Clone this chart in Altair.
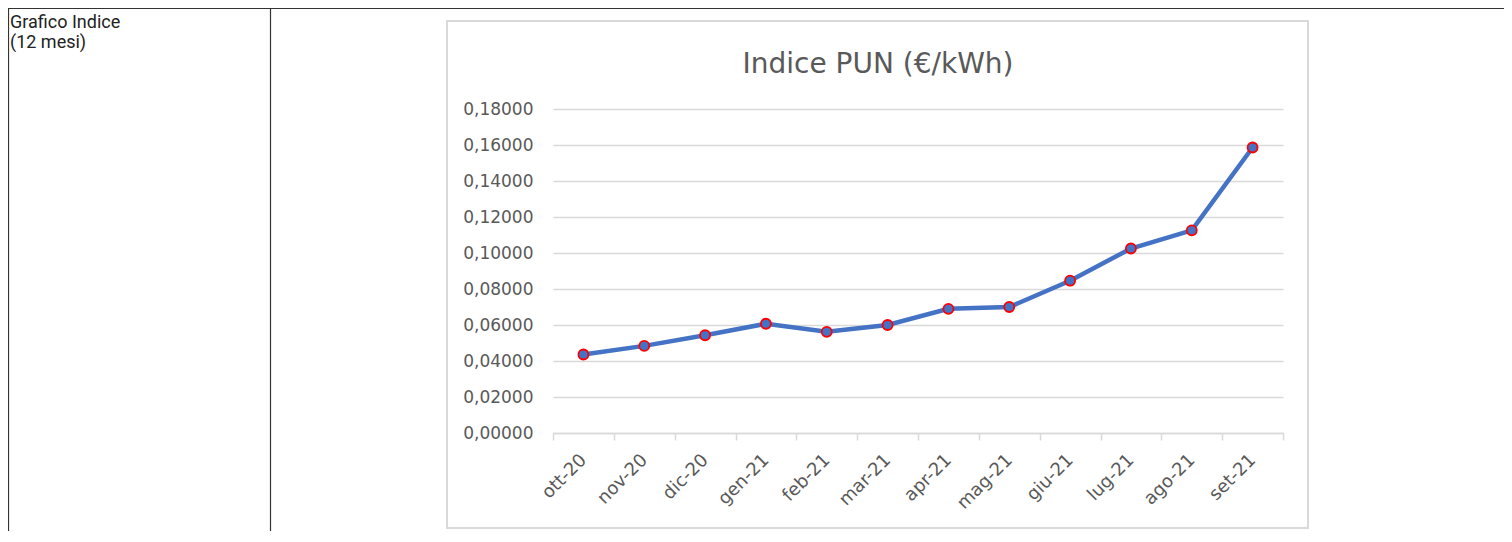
import altair as alt
import pandas as pd

# ---- data ----
months = ["ott-20", "nov-20", "dic-20", "gen-21", "feb-21", "mar-21",
          "apr-21", "mag-21", "giu-21", "lug-21", "ago-21", "set-21"]
pun = [0.0436, 0.0484, 0.0543, 0.0607, 0.0562, 0.0600,
       0.0690, 0.0700, 0.0846, 0.1025, 0.1126, 0.1586]
y_ticks = [0.0, 0.02, 0.04, 0.06, 0.08, 0.10, 0.12, 0.14, 0.16, 0.18]
title_text = "Indice PUN (€/kWh)"
side_label = ["Grafico Indice", "(12 mesi)"]

df = pd.DataFrame({"mese": months, "pun": pun})

# ---- layout (pixels) ----
W, H = 730, 324
PAD_L, PAD_T, PAD_R, PAD_B = 545, 101, 221, 98
GRAY_TXT = "#595959"
GRAY_LN = "#d9d9d9"
FONT = "DejaVu Sans"

x_enc = alt.X(
    "mese:O", sort=months, bandPosition=0.5,
    scale=alt.Scale(type="band", paddingInner=0, paddingOuter=0),
    axis=alt.Axis(title=None, tickBand="extent", labelAngle=-45,
                  labelAlign="right", labelBaseline="middle", labelPadding=17,
                  labelOffset=0,
                  labelFont=FONT, labelFontSize=18, labelColor=GRAY_TXT,
                  domainColor=GRAY_LN, domainWidth=1.5, tickColor=GRAY_LN,
                  tickWidth=1.5, tickSize=7, grid=False),
)
y_enc = alt.Y(
    "pun:Q",
    scale=alt.Scale(domain=[0, 0.18], nice=False, zero=True),
    axis=alt.Axis(title=None, values=y_ticks,
                  labelExpr="replace(format(datum.value, '.5f'), '.', ',')",
                  ticks=False, domain=False, labelPadding=20,
                  labelFont=FONT, labelFontSize=17, labelColor=GRAY_TXT,
                  grid=True, gridColor=GRAY_LN, gridWidth=1.5),
)

one = alt.Data(values=[{}])

box = alt.Chart(one).mark_rect(filled=False, color=GRAY_LN, strokeWidth=2).encode(
    x=alt.value(-106), x2=alt.value(755), y=alt.value(-88), y2=alt.value(419)
)
top_line = alt.Chart(one).mark_rule(color="#333333", strokeWidth=1.2).encode(
    x=alt.value(-545), x2=alt.value(951), y=alt.value(-100.5)
)
left_line = alt.Chart(one).mark_rule(color="#333333", strokeWidth=1.2).encode(
    x=alt.value(-544.5), y=alt.value(-101), y2=alt.value(H + PAD_B)
)
div_line = alt.Chart(one).mark_rule(color="#333333", strokeWidth=1.2).encode(
    x=alt.value(-282.5), y=alt.value(-101), y2=alt.value(H + PAD_B)
)
side = alt.Chart(one).mark_text(
    text=side_label, align="left", baseline="alphabetic", font="Roboto",
    fontSize=18, lineHeight=20, color="#222222"
).encode(x=alt.value(-543), y=alt.value(-81))
title = alt.Chart(one).mark_text(
    text=title_text, align="center", baseline="alphabetic", font=FONT,
    fontSize=28, color=GRAY_TXT
).encode(x=alt.value(325), y=alt.value(-36))

base = alt.Chart(df).encode(x=x_enc, y=y_enc)
line = base.mark_line(color="#4472C4", strokeWidth=4.5)
pts = base.mark_point(filled=True, size=100, fill="#4472C4", stroke="#FF0000",
                      strokeWidth=1.8, opacity=1)

chart = alt.layer(box, top_line, left_line, div_line, side, title, line, pts).properties(
    width=W, height=H,
    padding={"left": PAD_L, "top": PAD_T, "right": PAD_R, "bottom": PAD_B},
    autosize=alt.AutoSizeParams(type="none"),
    background="white",
).configure_view(strokeWidth=0)

chart.save("out.html", embed_options={"renderer": "svg", "actions": False})
